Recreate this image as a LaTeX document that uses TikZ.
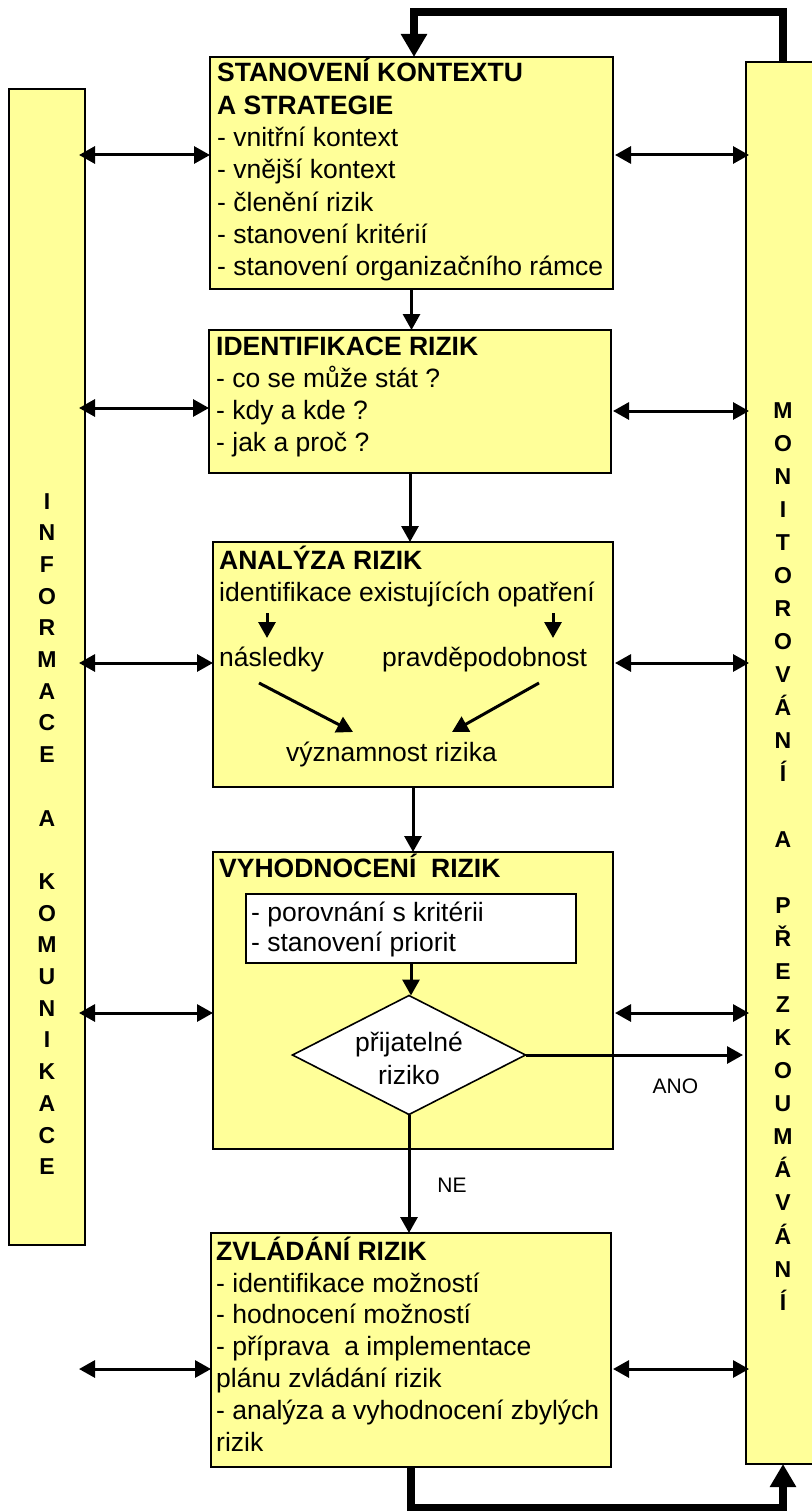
\documentclass[tikz,border=0pt]{standalone}
\usepackage{fontspec}
\setmainfont{Liberation Sans}
\usetikzlibrary{arrows.meta,shapes.geometric}
\definecolor{boxyellow}{HTML}{FFFF99}
\begin{document}
\begin{tikzpicture}[x=1pt,y=-1pt,
  box/.style={draw=black, line width=1.6pt, fill=boxyellow, inner sep=0pt, outer sep=0pt, anchor=north west},
  wbox/.style={box, fill=white},
  txt/.style={anchor=base west, inner sep=0pt, font=\fontsize{26.5}{32}\selectfont},
  ttl/.style={anchor=base west, inner sep=0pt, font=\fontsize{26.5}{32}\selectfont\bfseries},
  ctxt/.style={anchor=base, inner sep=0pt, font=\fontsize{26.5}{32}\selectfont},
  col/.style={anchor=base, inner sep=0pt, font=\fontsize{23}{33}\selectfont\bfseries},
  small/.style={anchor=center, inner sep=0pt, font=\fontsize{21}{25}\selectfont},
  link/.style={line width=3pt, -{Triangle[length=16pt,width=17pt]}},
  both/.style={line width=3pt, {Triangle[length=16pt,width=17pt]}-{Triangle[length=16pt,width=17pt]}},
  bigloop/.style={line width=8pt, -{Triangle[length=23pt,width=25pt]}}
]
\useasboundingbox (0,0) rectangle (811,1511);

% side columns
\node[box, minimum width=76pt, minimum height=1156pt] (lc) at (9,89) {};
\node[box, minimum width=74pt, minimum height=1402pt] (rc) at (746,62) {};

% main boxes
\node[box, minimum width=403pt, minimum height=232pt] (ctx) at (210,57) {};
\node[box, minimum width=402pt, minimum height=143pt] (idf) at (209,330) {};
\node[box, minimum width=400pt, minimum height=245pt] (ana) at (213,542) {};
\node[box, minimum width=400pt, minimum height=297pt] (eva) at (213,852) {};
\node[box, minimum width=400pt, minimum height=234pt] (trt) at (211,1233) {};
\node[wbox, minimum width=330pt, minimum height=69pt] (inn) at (246,894) {};
\node[diamond, draw=black, line width=1.6pt, fill=white, inner sep=0pt, outer sep=0pt,
      minimum width=233pt, minimum height=119pt] (dia) at (409,1055) {};

% column letters
\foreach \l/\k in {M/0,O/1,N/2,I/3,T/4,O/5,R/6,O/7,V/8,Á/9,N/10,Í/11,A/13,P/15,Ř/16,E/17,Z/18,K/19,O/20,U/21,M/22,Á/23,V/24,Á/25,N/26,Í/27}
  \node[col] (r\k) at (783,{418+33.04*\k}) {\l};
\foreach \l/\k in {I/0,N/1,F/2,O/3,R/4,M/5,A/6,C/7,E/8,A/10,K/12,O/13,M/14,U/15,N/16,I/17,K/18,A/19,C/20,E/21}
  \node[col] (l\k) at (47,{509+31.7*\k}) {\l};

% box 1 text
\node[ttl] (c1) at (217,82) {STANOVENÍ KONTEXTU};
\node[ttl] (c2) at (217,114.3) {A STRATEGIE};
\foreach \t [count=\i] in {{- vnitřní kontext},{- vnější kontext},{- členění rizik},{- stanovení kritérií},{- stanovení organizačního rámce}}
  \node[txt] (ci\i) at (217,{146.6+32.3*(\i-1)}) {\t};

% box 2 text
\node[ttl] (i1) at (216,355) {IDENTIFIKACE RIZIK};
\foreach \t [count=\i] in {{- co se může stát ?},{- kdy a kde ?},{- jak a proč ?}}
  \node[txt] (ii\i) at (216,{387+32*(\i-1)}) {\t};

% box 3 text
\node[ttl] (a1) at (219,569) {ANALÝZA RIZIK};
\node[txt] (a2) at (219,601) {identifikace existujících opatření};
\node[txt] (a3) at (219,666) {následky};
\node[txt] (a4) at (382,666) {pravděpodobnost};
\node[txt] (a5) at (286,761) {významnost rizika};
\coordinate (s1a) at (267,613); \coordinate (s1b) at (267,638);
\coordinate (s2a) at (553,613); \coordinate (s2b) at (553,638);
\coordinate (d1a) at (259,683); \coordinate (d1b) at (353,732);
\coordinate (d2a) at (539,683); \coordinate (d2b) at (452,732);
\draw[link] (s1a) -- (s1b);
\draw[link] (s2a) -- (s2b);
\draw[link] (d1a) -- (d1b);
\draw[link] (d2a) -- (d2b);

% box 4 text
\node[ttl] (e1) at (219,877) {VYHODNOCENÍ~~RIZIK};
\node[txt] (e2) at (251,921) {- porovnání s kritérii};
\node[txt] (e3) at (251,951) {- stanovení priorit};
\node[ctxt] (e4) at (409,1051) {přijatelné};
\node[ctxt] (e5) at (409,1084) {riziko};

% box 5 text
\node[ttl] (t1) at (216,1260) {ZVLÁDÁNÍ RIZIK};
\foreach \t [count=\i] in {{- identifikace možností},{- hodnocení možností},{- příprava~~a implementace},{plánu zvládání rizik},{- analýza a vyhodnocení zbylých},{rizik}}
  \node[txt] (ti\i) at (216,{1292+31.8*(\i-1)}) {\t};

% vertical flow
\draw[link] (ctx.south) -- (ctx.south |- idf.north);
\draw[link] (idf.south) -- (idf.south |- ana.north);
\draw[link] (ana.south) -- (ana.south |- eva.north);
\draw[link] (inn.south) -- (inn.south |- dia.north);
\draw[link] (dia.south) -- (dia.south |- trt.north) node[small, pos=0.6, xshift=43pt] (ne) {NE};
\draw[link, shorten >=3pt] (dia.east) -- (dia.east -| rc.west) node[small, pos=0.68, yshift=-31pt] (ano) {ANO};

% side links
\foreach \y/\b in {155/ctx,408/idf,663/ana,1013/eva,1369/trt}{
  \coordinate (L\b) at (79,\y);
  \draw[both] (L\b) -- (L\b -| \b.west);
}
\foreach \y/\b in {155/ctx,411/idf,663/ana,1013/eva,1369/trt}{
  \coordinate (R\b) at (749,\y);
  \draw[both] (R\b -| \b.east) ++(2,0) coordinate (Q\b) (Q\b) -- (R\b);
}

% feedback loops
\coordinate (topin) at (414,57);
\draw[bigloop] (rc.north) -- ++(0,-50) -| (topin);
\draw[bigloop] (trt.south) -- ++(0,41) -| (rc.south);
\end{tikzpicture}
\end{document}
